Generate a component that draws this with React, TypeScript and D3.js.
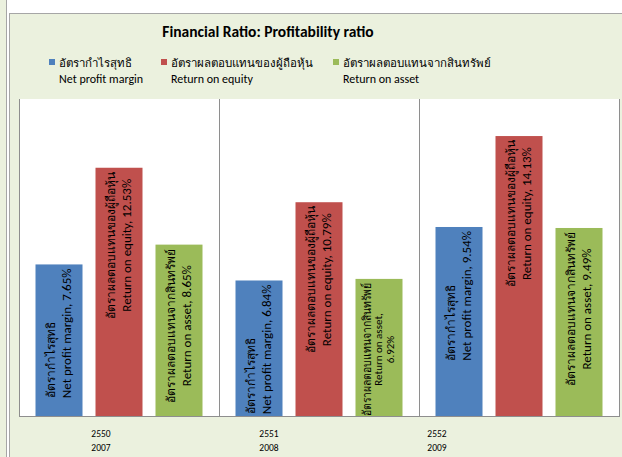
import React, { useEffect, useRef } from "react";
import * as d3 from "d3";

const title = "Financial Ratio: Profitability ratio";
const yearsBE = ["2550", "2551", "2552"];
const yearsCE = ["2007", "2008", "2009"];
const seriesThai = ["อัตรากำไรสุทธิ", "อัตราผลตอบแทนของผู้ถือหุ้น", "อัตราผลตอบแทนจากสินทรัพย์"];
const seriesEng = ["Net profit margin", "Return on equity", "Return on asset"];
const netProfitMargin = [7.65, 6.84, 9.54];
const returnOnEquity = [12.53, 10.79, 14.13];
const returnOnAsset = [8.65, 6.92, 9.49];
const colors = ["#4F81BD", "#C0504D", "#9BBB59"];

const W = 622;
const H = 457;
const BG = "#EBF1DE";
const BORDER = "#A6A6A6";
const FONT = "Calibri, Carlito, 'Liberation Sans Narrow', 'Noto Sans', sans-serif";
const plot = { left: 19, right: 619, top: 99, bottom: 416 };
const legendX = [49, 161, 333];

const App = () => {
  const ref = useRef<SVGSVGElement>(null);

  useEffect(() => {
    document.body.style.margin = "0";
    const svg = d3.select(ref.current);
    svg.selectAll("*").remove();
    svg.attr("font-family", FONT);

    const series = [netProfitMargin, returnOnEquity, returnOnAsset];

    // frame
    svg.append("rect").attr("width", W).attr("height", H).attr("fill", "#fff");
    svg.append("rect").attr("width", 6).attr("height", H).attr("fill", BG);
    svg.append("line").attr("x1", 6.5).attr("x2", 6.5).attr("y1", 0).attr("y2", H).attr("stroke", BORDER);
    svg.append("rect").attr("x", 9.5).attr("y", 13.5).attr("width", W).attr("height", H)
      .attr("fill", BG).attr("stroke", BORDER);
    svg.append("rect").attr("x", plot.left).attr("y", plot.top)
      .attr("width", plot.right - plot.left).attr("height", plot.bottom - plot.top).attr("fill", "#fff");

    svg.append("text").attr("x", 268).attr("y", 37).attr("text-anchor", "middle")
      .attr("font-size", 15.5).attr("font-weight", "bold").text(title);

    // legend
    seriesThai.forEach((t, i) => {
      const lg = svg.append("g").attr("transform", `translate(${legendX[i]},0)`);
      lg.append("rect").attr("x", 0).attr("y", 59).attr("width", 6).attr("height", 6).attr("fill", colors[i]);
      lg.append("text").attr("x", 10).attr("y", 67).attr("font-size", 11.5).text(t);
      lg.append("text").attr("x", 10).attr("y", 83).attr("font-size", 12).text(seriesEng[i]);
    });

    const x0 = d3.scaleBand<string>().domain(yearsBE).range([plot.left, plot.right]);
    const x1 = d3.scaleBand<number>().domain([0, 1, 2]).range([0, x0.bandwidth()])
      .paddingInner(0.2166).paddingOuter(0.275);
    const y = d3.scaleLinear().domain([0, 16]).range([plot.bottom, plot.top]);
    const xLabel = d3.scalePoint<string>().domain(yearsBE).range([101, 437]);

    // bars
    yearsBE.forEach((yr, ci) => {
      series.forEach((vals, si) => {
        svg.append("rect")
          .attr("x", x0(yr)! + x1(si)!)
          .attr("y", y(vals[ci]))
          .attr("width", x1.bandwidth())
          .attr("height", y(0) - y(vals[ci]))
          .attr("fill", colors[si]);
      });
    });

    // axis lines and category dividers
    svg.append("line").attr("x1", plot.left + 0.5).attr("x2", plot.left + 0.5)
      .attr("y1", plot.top).attr("y2", plot.bottom).attr("stroke", "#8E8E8E");
    yearsBE.forEach((yr) => {
      const xx = Math.round(x0(yr)! + x0.bandwidth()) + 0.5;
      svg.append("line").attr("x1", xx).attr("x2", xx)
        .attr("y1", plot.top).attr("y2", plot.bottom).attr("stroke", "#8E8E8E");
    });
    svg.append("line").attr("x1", plot.left).attr("x2", plot.right + 1)
      .attr("y1", plot.bottom + 0.5).attr("y2", plot.bottom + 0.5).attr("stroke", "#8E8E8E");

    // bar labels, rotated, anchored at the inside end
    const labels = svg.append("g");
    const measure = (s: string, size: number) => {
      const t = labels.append("text").attr("font-size", size).text(s);
      const w = (t.node() as SVGTextElement).getComputedTextLength();
      t.remove();
      return w;
    };
    yearsBE.forEach((yr, ci) => {
      series.forEach((vals, si) => {
        const v = vals[ci];
        const cx = x0(yr)! + x1(si)! + x1.bandwidth() / 2;
        const top = y(v);
        const avail = y(0) - top - 4;
        let sizes = [12, 13];
        let lh = 15.5;
        let lines = [seriesThai[si], `${seriesEng[si]}, ${v.toFixed(2)}%`];
        let widths = lines.map((l, i) => measure(l, sizes[i]));
        if (d3.max(widths)! > avail) {
          sizes = [12, 11, 11];
          lh = 12;
          lines = [seriesThai[si], `${seriesEng[si]},`, `${v.toFixed(2)}%`];
          widths = lines.map((l, i) => measure(l, sizes[i]));
        }
        const L = Math.min(d3.max(widths)!, avail);
        const g = labels.append("g")
          .attr("transform", `translate(${cx},${top + 4 + L}) rotate(-90)`);
        lines.forEach((l, i) => {
          const w = Math.min(widths[i], avail);
          const t = g.append("text")
            .attr("x", i === 0 ? 0 : (L - w) / 2)
            .attr("y", (i - (lines.length - 1) / 2) * lh)
            .attr("dominant-baseline", "central")
            .attr("font-size", sizes[i])
            .attr("fill", "#000")
            .text(l);
          if (widths[i] > avail) t.attr("textLength", avail).attr("lengthAdjust", "spacingAndGlyphs");
        });
      });
    });

    // category labels
    yearsBE.forEach((yr, ci) => {
      svg.append("text").attr("x", xLabel(yr)!).attr("y", 437).attr("text-anchor", "middle")
        .attr("font-size", 9.5).text(yr);
      svg.append("text").attr("x", xLabel(yr)!).attr("y", 451).attr("text-anchor", "middle")
        .attr("font-size", 9.5).text(yearsCE[ci]);
    });

    return () => {
      svg.selectAll("*").remove();
    };
  }, []);

  return <svg ref={ref} width={W} height={H} style={{ display: "block" }} />;
};

export default App;
